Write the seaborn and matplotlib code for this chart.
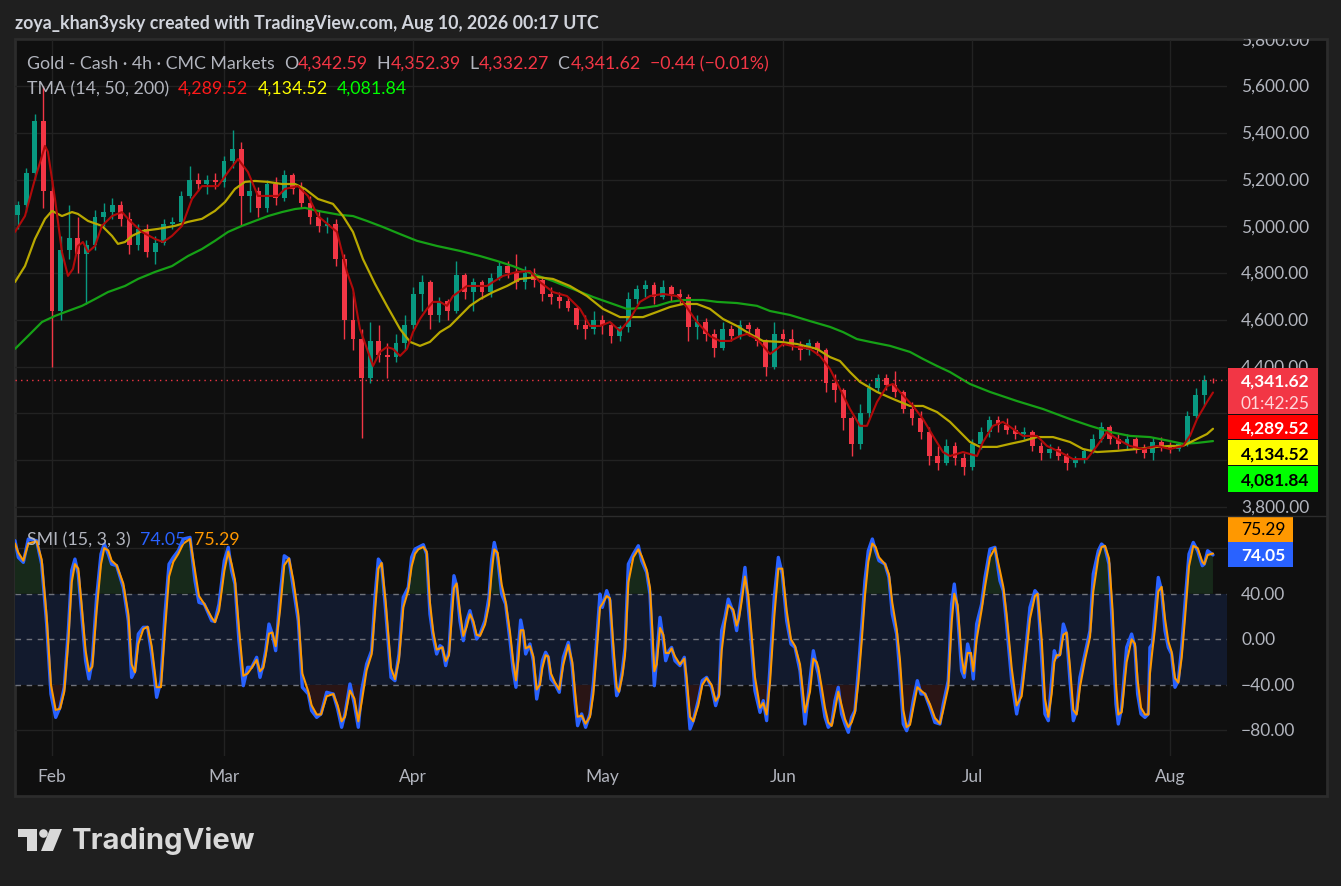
import pandas as pd
import seaborn as sns
import matplotlib.pyplot as plt
from matplotlib.patches import Rectangle, Circle, Polygon
from matplotlib.transforms import Bbox

# ================== data ==================
first_day, last_day = "2026-01-27", "2026-08-10"

first_open = 5050
day_close = [5090, 5230, 5450, 5150, 4640, 4900, 4950, 4880, 4920, 5040,
             5060, 5090, 5030, 4920, 4990, 4890, 4930, 5010, 5020, 5130,
             5200, 5180, 5200, 5190, 5280, 5330, 5130, 5150, 5080, 5180,
             5120, 5220, 5160, 5100, 5040, 5000, 5010, 4860, 4600, 4520,
             4350, 4510, 4450, 4440, 4500, 4580, 4710, 4760, 4620, 4680,
             4640, 4790, 4720, 4760, 4720, 4780, 4830, 4800, 4760, 4800,
             4770, 4710, 4700, 4680, 4650, 4580, 4560, 4600, 4580, 4530,
             4570, 4690, 4730, 4750, 4700, 4740, 4710, 4700, 4570, 4590,
             4540, 4480, 4560, 4530, 4580, 4560, 4510, 4400, 4540, 4520,
             4490, 4470, 4500, 4470, 4330, 4300, 4180, 4070, 4200, 4310,
             4350, 4320, 4290, 4220, 4180, 4120, 4020, 3990, 4060, 4010,
             3970, 4070, 4120, 4170, 4150, 4130, 4110, 4120, 4060, 4030,
             4050, 4020, 3990, 4000, 4040, 4090, 4140, 4090, 4070, 4090,
             4050, 4030, 4080, 4060, 4050, 4070, 4190, 4280, 4342.59, 4341.62]
day_high = [5110, 5250, 5480, 5598, 5200, 4960, 5090, 5040, 4940, 5070,
            5100, 5120, 5110, 5060, 5010, 5010, 4960, 5030, 5040, 5150,
            5260, 5230, 5220, 5230, 5300, 5410, 5360, 5200, 5170, 5200,
            5210, 5240, 5230, 5190, 5130, 5070, 5040, 5030, 4880, 4720,
            4560, 4590, 4580, 4500, 4540, 4620, 4740, 4790, 4770, 4700,
            4690, 4850, 4800, 4780, 4770, 4800, 4850, 4850, 4880, 4830,
            4820, 4780, 4740, 4720, 4700, 4660, 4620, 4640, 4620, 4590,
            4580, 4720, 4750, 4770, 4760, 4770, 4750, 4730, 4710, 4620,
            4610, 4560, 4590, 4580, 4600, 4590, 4570, 4520, 4590, 4560,
            4560, 4510, 4520, 4510, 4480, 4370, 4310, 4190, 4240, 4330,
            4370, 4370, 4380, 4300, 4250, 4210, 4140, 4060, 4090, 4080,
            4030, 4090, 4140, 4190, 4190, 4180, 4150, 4140, 4130, 4080,
            4070, 4060, 4030, 4020, 4050, 4110, 4165, 4150, 4110, 4110,
            4100, 4070, 4100, 4100, 4080, 4080, 4210, 4310, 4365, 4352.39]
day_low = [4990, 5060, 5200, 5080, 4400, 4600, 4860, 4800, 4670, 4900,
           5000, 5030, 5000, 4880, 4900, 4870, 4840, 4920, 4990, 5000,
           5120, 5150, 5140, 5160, 5170, 5250, 5000, 5060, 5040, 5060,
           5090, 5110, 5140, 5080, 5010, 4975, 4970, 4830, 4520, 4470,
           4095, 4330, 4420, 4350, 4420, 4470, 4560, 4640, 4560, 4590,
           4600, 4630, 4690, 4640, 4690, 4700, 4770, 4780, 4730, 4730,
           4740, 4680, 4670, 4650, 4640, 4560, 4520, 4540, 4540, 4500,
           4510, 4550, 4670, 4700, 4670, 4690, 4680, 4670, 4510, 4520,
           4510, 4440, 4470, 4510, 4520, 4530, 4490, 4360, 4390, 4490,
           4470, 4430, 4450, 4450, 4290, 4250, 4130, 4020, 4050, 4180,
           4290, 4300, 4270, 4200, 4150, 4090, 3980, 3960, 3980, 3980,
           3935, 3960, 4050, 4100, 4120, 4110, 4090, 4090, 4040, 4000,
           4010, 4000, 3960, 3970, 3990, 4030, 4080, 4070, 4050, 4050,
           4030, 4010, 4000, 4040, 4030, 4040, 4060, 4180, 4230, 4332.27]
last_change, last_change_pct = -0.44, -0.01
countdown = "01:42:25"

# TMA lines, read as (bar position, price) vertices
ma14_x = [-0.30, 0.86, 2.02, 3.19, 3.53, 4.35, 5.16, 5.86, 6.44, 7.02,
          7.60, 8.19, 9.00, 9.81, 10.98, 12.14, 13.07, 14.47, 15.98, 16.91,
          17.95, 19.12, 20.28, 21.44, 23.30, 24.47, 25.63, 26.79, 27.95, 29.12,
          30.28, 31.09, 32.60, 33.77, 34.93, 37.14, 38.30, 39.00, 39.81, 40.63,
          41.33, 42.14, 42.95, 43.65, 44.47, 45.28, 45.98, 46.79, 47.60, 48.30,
          49.12, 49.93, 50.63, 52.26, 54.58, 55.28, 56.44, 58.07, 59.58, 60.74,
          62.26, 63.88, 65.40, 66.56, 67.72, 68.88, 70.05, 71.21, 72.37, 73.53,
          75.05, 76.67, 77.37, 79.00, 80.51, 81.67, 82.84, 84.00, 84.81, 85.98,
          86.67, 87.49, 88.30, 89.00, 90.63, 92.14, 93.30, 94.47, 95.63, 96.79,
          97.95, 98.77, 99.93, 101.09, 101.79, 102.60, 104.12, 105.28, 106.44, 107.60,
          108.42, 109.93, 111.56, 112.26, 113.42, 114.58, 115.74, 116.91, 118.53, 119.70,
          121.21, 122.72, 124.35, 125.51, 126.67, 127.84, 129.35, 130.86, 132.49, 134.00,
          135.51, 136.33, 137.14, 138.30, 139.00]
ma14 = [4976, 5044, 5202, 5344, 5318, 5117, 4890, 4788, 4818, 4916,
        4933, 4890, 4916, 5002, 5044, 5061, 5023, 4976, 4946, 4933,
        4959, 5002, 5117, 5172, 5172, 5232, 5288, 5232, 5130, 5130,
        5130, 5160, 5172, 5130, 5044, 4976, 4805, 4732, 4561, 4476,
        4403, 4463, 4484, 4476, 4446, 4476, 4548, 4604, 4647, 4677,
        4677, 4660, 4702, 4745, 4745, 4762, 4788, 4805, 4809, 4762,
        4719, 4702, 4647, 4574, 4574, 4591, 4553, 4604, 4677, 4702,
        4711, 4702, 4677, 4591, 4531, 4510, 4510, 4531, 4540, 4518,
        4489, 4454, 4476, 4497, 4484, 4476, 4446, 4390, 4305, 4219,
        4147, 4147, 4249, 4317, 4326, 4292, 4232, 4176, 4104, 4035,
        4018, 4035, 4018, 4078, 4147, 4164, 4134, 4104, 4104, 4061,
        4035, 4005, 4005, 4061, 4121, 4091, 4061, 4048, 4061, 4048,
        4061, 4104, 4176, 4249, 4289.52]

ma50_x = [-0.30, 0.86, 2.02, 3.19, 4.00, 5.16, 6.33, 7.02, 8.19, 9.81,
          10.98, 11.67, 12.49, 13.30, 14.47, 16.33, 18.30, 19.81, 21.44, 22.95,
          24.12, 25.28, 26.44, 27.60, 29.12, 30.74, 32.26, 33.42, 34.93, 36.67,
          37.84, 39.00, 40.16, 41.56, 42.95, 44.47, 45.63, 46.79, 47.95, 49.12,
          50.28, 51.44, 52.60, 53.77, 55.28, 56.91, 58.42, 60.40, 62.26, 64.23,
          66.21, 68.07, 70.05, 72.72, 74.35, 75.86, 77.37, 79.00, 80.51, 82.02,
          83.65, 85.16, 86.67, 88.65, 90.63, 92.95, 94.47, 95.63, 96.79, 97.95,
          99.93, 101.79, 103.77, 105.28, 106.91, 108.42, 109.23, 110.74, 111.91, 113.88,
          115.40, 116.91, 118.53, 120.40, 122.37, 123.88, 125.51, 127.84, 130.16, 132.49,
          134.00, 135.51, 137.14, 138.30, 139.00]
ma50 = [4762, 4830, 4946, 5032, 5066, 5044, 5061, 5053, 5023, 5002,
        4959, 4925, 4933, 4959, 4980, 4989, 5002, 5019, 5032, 5066,
        5104, 5160, 5190, 5194, 5190, 5181, 5181, 5160, 5117, 5096,
        5044, 4976, 4860, 4754, 4660, 4561, 4506, 4489, 4506, 4548,
        4574, 4617, 4660, 4689, 4719, 4745, 4775, 4783, 4775, 4745,
        4702, 4647, 4612, 4612, 4634, 4655, 4668, 4668, 4647, 4604,
        4574, 4540, 4510, 4506, 4497, 4476, 4441, 4424, 4377, 4335,
        4292, 4262, 4232, 4232, 4206, 4164, 4134, 4078, 4057, 4057,
        4070, 4082, 4099, 4099, 4078, 4048, 4035, 4040, 4048, 4057,
        4061, 4061, 4091, 4112, 4134.52]

ma200_x = [-0.30, 1.21, 2.84, 4.35, 5.86, 7.49, 9.00, 10.51, 12.49, 14.00,
           15.98, 17.95, 19.81, 21.44, 22.95, 24.47, 26.09, 27.60, 29.12, 30.74,
           32.26, 33.42, 34.93, 37.49, 39.00, 40.63, 42.49, 44.47, 46.44, 48.77,
           51.44, 53.77, 55.74, 57.60, 59.93, 62.26, 64.58, 66.91, 69.23, 70.86,
           72.72, 74.35, 75.86, 77.37, 79.70, 81.33, 83.65, 85.98, 87.49, 89.81,
           92.14, 94.47, 95.98, 97.60, 99.12, 101.44, 103.77, 105.28, 106.91, 108.42,
           110.74, 113.07, 116.21, 119.23, 122.37, 124.70, 127.02, 129.35, 131.67, 134.00,
           135.51, 137.14, 139.00]
ma200 = [4476, 4531, 4591, 4617, 4638, 4660, 4689, 4719, 4745, 4775,
         4805, 4830, 4873, 4903, 4938, 4976, 5002, 5023, 5044, 5061,
         5074, 5079, 5066, 5049, 5044, 5023, 4997, 4967, 4938, 4916,
         4895, 4873, 4852, 4830, 4796, 4766, 4732, 4698, 4668, 4647,
         4651, 4660, 4677, 4685, 4685, 4677, 4672, 4660, 4638, 4621,
         4595, 4570, 4548, 4518, 4506, 4489, 4463, 4433, 4403, 4377,
         4326, 4292, 4253, 4219, 4176, 4147, 4121, 4104, 4099, 4082,
         4070, 4074, 4081.84]

# SMI (15, 3, 3): traced vertices, blue = SMI, orange = signal
smi_x = [-0.30, 0.09, 0.67, 1.25, 2.22, 2.80, 3.38, 3.88, 4.43, 4.93,
         5.43, 5.90, 6.29, 6.67, 7.06, 7.45, 7.91, 8.30, 8.69, 9.19,
         9.70, 10.08, 10.55, 10.94, 11.52, 12.29, 12.88, 13.26, 13.65, 14.04,
         14.62, 15.12, 15.59, 16.17, 16.67, 17.14, 17.61, 18.11, 18.69, 19.27,
         20.05, 20.63, 21.09, 21.71, 22.57, 22.95, 23.42, 24.04, 24.50, 24.89,
         25.28, 25.74, 26.25, 26.75, 27.22, 27.80, 28.19, 28.57, 28.85, 29.23,
         29.62, 30.01, 30.51, 31.01, 31.56, 32.06, 32.64, 33.11, 33.81, 34.19,
         34.78, 35.28, 35.94, 36.71, 37.22, 37.68, 38.07, 38.65, 39.16, 39.62,
         40.01, 40.59, 41.17, 41.56, 41.95, 42.33, 42.80, 43.42, 43.88, 44.35,
         44.85, 45.43, 45.82, 46.21, 46.60, 47.18, 47.57, 47.95, 48.34, 48.73,
         49.12, 49.39, 49.78, 50.16, 50.47, 50.74, 51.05, 51.44, 51.83, 52.22,
         52.60, 52.99, 53.38, 53.77, 54.35, 54.81, 55.12, 55.43, 55.82, 56.29,
         56.75, 57.26, 57.64, 57.95, 58.23, 58.50, 58.81, 59.08, 59.58, 59.97,
         60.36, 60.74, 61.02, 61.40, 61.71, 62.02, 62.49, 62.99, 63.46, 64.04,
         64.50, 64.81, 65.12, 65.59, 66.05, 66.56, 66.95, 67.33, 67.72, 67.99,
         68.50, 68.88, 69.27, 69.66, 69.93, 70.32, 70.63, 71.02, 71.60, 72.18,
         72.57, 73.15, 73.54, 73.81, 74.04, 74.31, 74.70, 75.09, 75.36, 75.74,
         76.05, 76.44, 77.02, 77.53, 77.80, 78.19, 78.57, 79.15, 79.62, 80.12,
         80.70, 81.17, 81.56, 81.87, 82.26, 82.64, 83.22, 83.61, 83.88, 84.19,
         84.58, 84.97, 85.36, 85.74, 86.33, 86.71, 87.10, 87.49, 87.99, 88.46,
         88.92, 89.43, 89.93, 90.40, 90.98, 91.56, 92.14, 92.53, 92.92, 93.11,
         93.50, 93.88, 94.27, 94.66, 95.05, 95.43, 95.82, 96.21, 96.60, 96.98,
         97.37, 97.76, 98.15, 98.53, 98.92, 99.39, 99.77, 100.16, 100.86, 101.32,
         101.71, 102.22, 102.60, 102.99, 103.38, 103.77, 104.15, 104.62, 105.05, 105.51,
         106.09, 106.67, 107.25, 107.64, 108.22, 108.61, 108.92, 109.31, 109.77, 110.08,
         110.47, 110.86, 111.13, 111.52, 112.10, 112.49, 113.07, 113.65, 114.23, 114.62,
         115.00, 115.59, 116.17, 116.75, 117.22, 117.72, 118.30, 118.61, 119.08, 119.46,
         119.85, 120.24, 120.55, 120.82, 121.21, 121.60, 121.98, 122.37, 122.76, 123.15,
         123.53, 124.12, 124.70, 125.08, 125.67, 126.05, 126.44, 126.91, 127.33, 127.72,
         127.99, 128.38, 128.96, 129.54, 129.93, 130.24, 130.63, 131.09, 131.48, 131.67,
         131.95, 132.26, 132.64, 133.03, 133.42, 133.81, 134.19, 134.58, 134.97, 135.36,
         135.74, 136.21, 136.71, 137.22, 137.76, 137.99, 138.38, 139.00]
smi_blue = [86.5, 71.9, 67.5, 88.0, 86.5, 66.0, 13.4, -48.0, -68.5, -59.7,
            -42.1, 7.6, 60.2, 70.4, 57.3, 22.2, -18.8, -34.8, -18.8, 36.8,
            74.8, 83.6, 74.8, 66.0, 64.6, 45.6, 16.3, -33.4, -27.5, 4.6,
            10.5, 10.5, -12.9, -50.9, -36.3, 22.2, 66.0, 71.9, 77.7, 88.0,
            89.4, 51.4, 32.4, 30.9, 16.3, 15.7, 30.9, 69.0, 80.7, 60.2,
            48.5, -1.2, -40.7, -24.6, -24.6, -15.8, -33.4, -21.7, -10.0, 13.4,
            4.6, -10.0, 36.8, 73.3, 70.4, 45.6, 16.3, -42.1, -48.0, -62.6,
            -68.5, -65.5, -46.5, -48.0, -61.2, -77.2, -65.5, -39.2, -56.8, -77.2,
            -45.0, -21.7, -10.0, 36.8, 70.4, 66.0, 25.1, -33.4, -36.3, -12.9,
            36.8, 45.6, 71.9, 79.2, 80.7, 83.0, 74.8, 22.2, 1.7, -12.9,
            -5.6, -7.1, -23.1, -10.0, 28.0, 55.8, 47.0, 16.3, -1.2, 16.3,
            25.1, 13.4, 0.3, 4.6, 16.3, 36.8, 69.0, 85.0, 71.9, 39.7,
            30.9, -1.2, -27.5, -42.1, -7.1, 16.9, 4.6, -12.9, -4.1, -18.8,
            -52.4, -36.3, -18.8, -11.4, -15.8, -34.8, -39.2, -46.5, -15.8, -2.7,
            -24.6, -53.8, -75.8, -65.5, -77.2, -65.5, -39.2, -1.2, 39.7, 28.0,
            42.7, 33.9, -15.8, -49.5, -45.1, -27.5, -7.1, 66.0, 74.8, 82.1,
            69.0, 58.7, 39.7, -7.1, -40.7, -15.8, 19.3, -1.2, -18.8, -10.0,
            -7.1, -18.8, -23.1, -15.8, -42.1, -78.7, -71.4, -53.8, -36.3, -33.4,
            -42.1, -58.2, -48.0, 7.6, 19.3, 35.3, 23.6, 7.6, 22.2, 39.7,
            63.1, 28.0, -7.1, -45.1, -64.1, -53.8, -71.4, -24.6, 36.8, 71.9,
            57.3, 16.3, -4.1, -7.1, -27.5, -74.3, -36.3, -10.0, -24.6, -30.0,
            -50.0, -68.0, -77.2, -74.3, -53.8, -42.1, -65.5, -74.3, -81.6, -68.5,
            -62.6, -27.5, 10.5, 51.4, 77.7, 88.0, 77.7, 69.0, 66.0, 54.3,
            22.2, 4.6, -30.5, -74.3, -80.2, -71.4, -53.8, -36.3, -48.0, -48.0,
            -59.7, -72.9, -74.3, -56.8, -36.3, 30.9, 48.5, 22.2, -27.5, -33.4,
            -4.1, -15.8, -34.8, 13.4, 30.9, 54.3, 79.2, 80.7, 51.4, 42.7,
            13.4, -36.3, -65.5, -42.1, -10.0, 28.0, 42.7, 39.7, -15.8, -65.5,
            -71.4, -36.3, -10.0, -15.8, -12.9, 13.4, 4.6, -36.3, -71.4, -62.6,
            -33.4, -12.9, 7.6, 57.3, 77.7, 83.6, 80.7, 66.0, 7.6, -56.8,
            -74.3, -59.7, -7.1, 4.6, -7.1, -48.0, -65.5, -68.5, -65.5, -7.1,
            -4.1, 22.2, 54.3, 42.7, 7.6, -7.1, -12.9, -42.1, -36.3, -7.1,
            30.9, 74.8, 85.0, 77.7, 64.6, 66.0, 77.7, 74.05]
smi_orange = [84, 76, 69, 84, 86, 70, 20, -40, -62, -61,
              -46, -2, 50, 66, 62, 30, -10, -28, -24, 25,
              66, 80, 78, 69, 65, 49, 22, -22, -29, -4,
              9, 11, -6, -42, -42, 8, 55, 68, 75, 84,
              88, 60, 38, 31, 19, 15, 25, 60, 77, 66,
              52, 10, -32, -30, -25, -18, -28, -25, -14, 5,
              6, -6, 25, 65, 71, 52, 22, -30, -46, -58,
              -66, -66, -50, -48, -58, -72, -68, -45, -52, -72,
              -55, -27, -13, 25, 62, 67, 33, -25, -35, -18,
              28, 43, 64, 75, 79, 81, 77, 32, 6, -9,
              -8, -7, -19, -14, 18, 45, 49, 24, 3, 11,
              22, 16, 4, 3, 13, 30, 58, 79, 76, 48,
              33, 6, -20, -36, -18, 8, 8, -8, -6, -15,
              -44, -40, -25, -14, -15, -30, -38, -44, -22, -5,
              -20, -45, -68, -67, -74, -68, -48, -12, 28, 31,
              38, 36, -5, -42, -46, -32, -14, 50, 72, 79,
              73, 61, 45, 8, -28, -22, 10, 4, -12, -12,
              -8, -15, -22, -17, -34, -68, -72, -58, -40, -34,
              -40, -54, -50, -10, 14, 30, 26, 12, 18, 33,
              55, 38, 3, -33, -60, -56, -66, -38, 20, 62,
              62, 25, 0, -6, -22, -64, -46, -17, -20, -25,
              -42, -60, -73, -76, -62, -46, -58, -70, -77, -73,
              -64, -38, -2, 38, 68, 84, 81, 72, 66, 57,
              32, 9, -18, -62, -77, -75, -60, -42, -45, -48,
              -57, -69, -74, -62, -42, 15, 40, 30, -15, -30,
              -12, -12, -28, 0, 26, 46, 72, 80, 60, 46,
              22, -25, -58, -50, -18, 18, 38, 40, 0, -52,
              -68, -48, -20, -14, -14, 4, 6, -24, -62, -66,
              -42, -18, 2, 42, 72, 81, 82, 71, 25, -40,
              -66, -64, -20, 0, -4, -36, -60, -66, -66, -30,
              -10, 10, 42, 46, 18, -2, -11, -34, -38, -16,
              18, 64, 82, 80, 68, 66, 74, 75.29]

last_close = day_close[-1]
smi_last, signal_last = smi_blue[-1], smi_orange[-1]
month_names = ["Feb", "Mar", "Apr", "May", "Jun", "Jul", "Aug"]
price_levels = [3800, 4000, 4200, 4400, 4600, 4800, 5000, 5200, 5400, 5600, 5800]
smi_levels = [40, 0, -40, -80]

# ================== table ==================
dates = pd.bdate_range(first_day, last_day)
df = pd.DataFrame({"date": dates, "close": day_close, "high": day_high, "low": day_low})
df["open"] = [first_open] + day_close[:-1]
df["bar"] = range(len(df))
df["up"] = df["close"] >= df["open"]
month_start = df.groupby(df["date"].dt.to_period("M"))["bar"].min().iloc[1:].tolist()

# ================== style ==================
sns.set_theme(style="dark")
plt.rcParams["font.family"] = ["Lato", "DejaVu Sans"]

BG_OUT, BG_IN, EDGE = "#1f1f1f", "#0f0f0f", "#2c2c2c"
GRID, TXT, TXT_HI = "#222222", "#b2b5be", "#d1d4dc"
UP, DOWN = "#089981", "#f23645"
MINUS = "\u2212"

W, H = 1341, 887
fig = plt.figure(figsize=(W / 100, H / 100), dpi=100, facecolor=BG_OUT)


def px_axes(x0, y0, x1, y1):
    return fig.add_axes([x0 / W, 1 - y1 / H, (x1 - x0) / W, (y1 - y0) / H])


back = px_axes(0, 0, W, H)
back.set_xlim(0, W); back.set_ylim(H, 0); back.axis("off")
back.add_patch(Rectangle((15, 40), 1312, 757, facecolor=BG_IN, edgecolor=EDGE, lw=2))

ax = px_axes(15, 41, 1227, 516)
ax2 = px_axes(15, 517, 1227, 757)
for a in (ax, ax2):
    a.set_facecolor("none")
    for s in a.spines.values():
        s.set_visible(False)
    a.set_xticks([]); a.set_yticks([])
    a.set_xlim(-0.30, 140.63)
    for m in month_start:
        a.axvline(m, color=GRID, lw=1, zorder=0)
ax.set_ylim(3765.8, 5796.7)
ax2.set_ylim(-102.4, 108.2)

# ================== price pane ==================
for p in price_levels:
    ax.axhline(p, color=GRID, lw=1, zorder=0)

colors = [UP if u else DOWN for u in df["up"]]
ax.vlines(df["bar"], df["low"], df["high"], colors=colors, lw=1, zorder=2)
body = (df["close"] - df["open"]).abs().clip(lower=3)
ax.bar(df["bar"], body, bottom=df[["open", "close"]].min(axis=1), width=0.55,
       color=colors, linewidth=0, zorder=3)

sns.lineplot(x=ma200_x, y=ma200, ax=ax, color="#16a116", lw=1.6, zorder=4)
sns.lineplot(x=ma50_x, y=ma50, ax=ax, color="#b8a800", lw=1.6, zorder=4)
sns.lineplot(x=ma14_x, y=ma14, ax=ax, color="#b00a0a", lw=1.5, zorder=5)
ax.axhline(last_close, color=DOWN, lw=1, ls=(0, (1, 3)), zorder=6)
ax.set_xlabel(""); ax.set_ylabel("")

# value boxes on the price scale, stacked down from the last close
y_close = H - ax.transData.transform((0, last_close))[1]
box_top = y_close - 12
boxes = [(46, DOWN, [(f"{last_close:,.2f}", "white"), (countdown, "#ffd6da")]),
         (24, "#ff0000", [(f"{ma14[-1]:,.2f}", "white")]),
         (25, "#ffff00", [(f"{ma50[-1]:,.2f}", "black")]),
         (26, "#00ff00", [(f"{ma200[-1]:,.2f}", "black")])]
box_bottom = box_top + sum(b[0] + 1 for b in boxes)

frame_clip = Bbox.from_extents(15, H - 797, 1327, H - 40)
for p in price_levels:
    y_px = H - ax.transData.transform((0, p))[1]
    if box_top + 4 < y_px < box_bottom:
        continue  # covered by the value boxes
    t = ax.text(1.0116, p, f"{p:,.2f}", transform=ax.get_yaxis_transform(),
                color=TXT, fontsize=12.5, va="center", ha="left", clip_on=True, zorder=1)
    t.set_clip_box(frame_clip)

# ================== SMI pane ==================
ax2.axhspan(-40, 40, color="#121a2d", lw=0, zorder=0)
for v in (80, -80):
    ax2.axhline(v, color=GRID, lw=1, zorder=0)
for v in (40, 0, -40):
    ax2.axhline(v, color="#6f727b", lw=1, ls=(0, (4, 4)), zorder=1)
blue = pd.Series(smi_blue)
ax2.fill_between(smi_x, 40, blue, where=blue > 40, interpolate=True,
                 color="#17291a", lw=0, zorder=1)
ax2.fill_between(smi_x, -40, blue, where=blue < -40, interpolate=True,
                 color="#2a1515", lw=0, zorder=1)
sns.lineplot(x=smi_x, y=smi_blue, ax=ax2, color="#2962ff", lw=2.4, zorder=3)
sns.lineplot(x=smi_x, y=smi_orange, ax=ax2, color="#ff9800", lw=1.5, zorder=4)
ax2.set_xlabel(""); ax2.set_ylabel("")

for v in smi_levels:
    ax2.text(1.0116, v, f"{v:.2f}".replace("-", MINUS), transform=ax2.get_yaxis_transform(),
             color=TXT, fontsize=12.5, va="center", ha="left", clip_on=False)

for m, name in zip(month_start, month_names):
    ax2.text(m, -0.083, name, transform=ax2.get_xaxis_transform(), color=TXT,
             fontsize=12.5, ha="center", va="center", clip_on=False)

# ================== front overlay: legends, value boxes, logo ==================
front = px_axes(0, 0, W, H)
front.set_xlim(0, W); front.set_ylim(H, 0); front.axis("off")
front.set_zorder(10)
renderer = fig.canvas.get_renderer()


def put_parts(x, y, parts, size, weight="normal"):
    for s, c in parts:
        t = front.text(x, y, s, color=c, fontsize=size, fontweight=weight,
                       ha="left", va="center")
        x += t.get_window_extent(renderer).width


front.text(15, 23, "zoya_khan3ysky created with TradingView.com, Aug 10, 2026 00:17 UTC",
           color=TXT_HI, fontsize=12.8, fontweight="bold", ha="left", va="center")

o, h, l, c = df.iloc[-1][["open", "high", "low", "close"]]
chg_txt = f"  {last_change:+.2f} ({last_change_pct:+.2f}%)".replace("-", MINUS)
put_parts(27, 64, [("Gold - Cash \u00b7 4h \u00b7 CMC Markets  ", TXT), ("O", TXT),
                   (f"{o:,.2f}", DOWN), ("  H", TXT), (f"{h:,.2f}", DOWN),
                   ("  L", TXT), (f"{l:,.2f}", DOWN), ("  C", TXT), (f"{c:,.2f}", DOWN),
                   (chg_txt, DOWN)], 12.8)
put_parts(27, 89, [("TMA (14, 50, 200)  ", TXT), (f"{ma14[-1]:,.2f}", "#ff1a1a"),
                   ("  ", TXT), (f"{ma50[-1]:,.2f}", "#ffff00"), ("  ", TXT),
                   (f"{ma200[-1]:,.2f}", "#00ff00")], 12.8)
put_parts(27, 540, [("SMI (15, 3, 3)  ", TXT), (f"{smi_last:.2f}", "#2962ff"),
                    ("  ", TXT), (f"{signal_last:.2f}", "#ff9800")], 12.8)

top = box_top
for hgt, fc, lines in boxes:
    front.add_patch(Rectangle((1228, top), 90, hgt, facecolor=fc, lw=0))
    step = hgt / len(lines)
    for k, (s, tc) in enumerate(lines):
        front.text(1241, top + step * (k + 0.5) + 0.5, s, color=tc, fontsize=12.5,
                   fontweight="bold" if k == 0 else "normal", ha="left", va="center")
    top += hgt + 1

# SMI value boxes
y_smi = H - ax2.transData.transform((0, smi_last))[1]
front.add_patch(Rectangle((1228, y_smi - 12.5), 65, 25, facecolor="#2962ff", lw=0))
front.text(1241, y_smi, f"{smi_last:.2f}", color="white", fontsize=12.5,
           fontweight="bold", ha="left", va="center")
front.add_patch(Rectangle((1228, y_smi - 39), 65, 26, facecolor="#ff9800", lw=0))
front.text(1241, y_smi - 26, f"{signal_last:.2f}", color="black", fontsize=12.5,
           ha="left", va="center")

# pane separator
front.plot([15, 1327], [516.5, 516.5], color=EDGE, lw=1)

# TradingView logo
LOGO = "#d9d9d9"
front.add_patch(Rectangle((18, 830), 19, 8, facecolor=LOGO, lw=0))
front.add_patch(Rectangle((27, 830), 10, 22, facecolor=LOGO, lw=0))
front.add_patch(Circle((43.5, 834.5), 4.3, facecolor=LOGO, lw=0))
front.add_patch(Polygon([(50, 830), (62, 830), (53, 852), (41, 852)], facecolor=LOGO, lw=0))
front.text(72, 841, "TradingView", color=LOGO, fontsize=21, fontweight="bold",
           ha="left", va="center", family=["Inter", "DejaVu Sans"])

fig.savefig("out.png", dpi=100, facecolor=BG_OUT)
print("saved out.png")
